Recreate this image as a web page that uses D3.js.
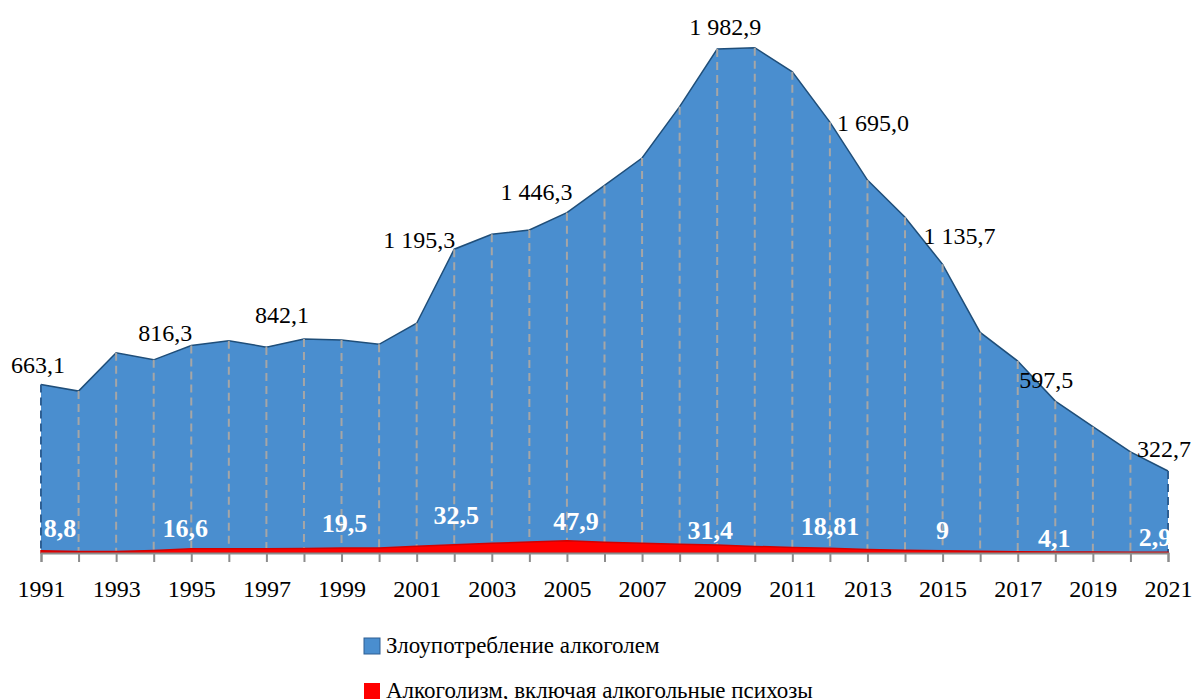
<!DOCTYPE html>
<html>
<head>
<meta charset="utf-8">
<script src="https://d3js.org/d3.v7.min.js"></script>
</head>
<body style="margin:0">
<script>
// years on the x axis
var years = d3.range(1991, 2022);

// blue series: Злоупотребление алкоголем
var abuse = [663.1, 637, 788, 760, 816.3, 835, 810, 842.1, 838, 821,
             904, 1195.3, 1254, 1271, 1339, 1446.3, 1554, 1756, 1982.9, 1988,
             1893, 1695.0, 1467, 1321, 1135.7, 868, 755, 597.5, 497, 398, 322.7];

// red series: Алкоголизм, включая алкогольные психозы
var alcoholism = [8.8, 6, 6, 10, 16.6, 17, 17, 18, 19.5, 20,
                  27, 32.5, 38, 43, 47.9, 42, 38, 34, 31.4, 26,
                  22, 18.81, 14, 11, 9, 7, 5, 4.1, 3.5, 3.2, 2.9];

// which points carry a data label, and the text shown
var abuseLabelYears = [1991, 1995, 1998, 2002, 2006, 2009, 2012, 2015, 2018, 2021];
var abuseLabels = ["663,1", "816,3", "842,1", "1 195,3", "1 446,3", "1 982,9", "1 695,0", "1 135,7", "597,5", "322,7"];
var alcLabelYears = [1991, 1995, 1999, 2002, 2005, 2009, 2012, 2015, 2018, 2021];
var alcLabels = ["8,8", "16,6", "19,5", "32,5", "47,9", "31,4", "18,81", "9", "4,1", "2,9"];

var tickYears = d3.range(1991, 2022, 2);
var seriesNames = ["Злоупотребление алкоголем", "Алкоголизм, включая алкогольные психозы"];

// label nudges (hand placed in the original)
var abuseNudge = [[-3, -19], [-26, -13], [-22, -24], [-35, -9], [-68, 7], [8, -22], [43, 1], [17, -28], [-9, -21], [-4, -22]];
var alcNudge = [[19, -23], [-6, -21], [3, -25], [2, -30], [9, -20], [-7, -15], [0, -22], [0, -21], [-1, -14], [-13, -15]];

var width = 1195, height = 699;
var blue = "#4a8ecf", red = "#ff0000";
var serif = "'Liberation Serif'";

var svg = d3.select("body").append("svg")
    .attr("width", width)
    .attr("height", height)
    .style("display", "block");

var x = d3.scaleLinear().domain([1991, 2021]).range([41, 1168]);
var y = d3.scaleLinear().domain([0, 1982.9]).range([553, 49]);

var blueData = years.map(function(yr, i) { return {year: yr, v: abuse[i]}; });
var redData = years.map(function(yr, i) { return {year: yr, v: alcoholism[i]}; });

var area = d3.area()
    .x(function(d) { return x(d.year); })
    .y0(y(0))
    .y1(function(d) { return y(d.v); });
var line = d3.line()
    .x(function(d) { return x(d.year); })
    .y(function(d) { return y(d.v); });

// blue area
svg.append("path")
    .datum(blueData)
    .attr("d", area)
    .attr("fill", blue);

svg.append("path")
    .datum(blueData)
    .attr("d", line)
    .attr("fill", "none")
    .attr("stroke", "#1f4e79")
    .attr("stroke-width", 1.5);

// drop lines
svg.append("g")
    .selectAll("line")
    .data(blueData)
    .join("line")
    .attr("x1", function(d) { return x(d.year); })
    .attr("x2", function(d) { return x(d.year); })
    .attr("y1", function(d) { return y(d.v); })
    .attr("y2", y(0))
    .attr("stroke", function(d) { return (d.year == 1991 || d.year == 2021) ? "#2e5f93" : "#a6a6a6"; })
    .attr("stroke-width", 2)
    .attr("stroke-dasharray", "8,5");

// red area
svg.append("path")
    .datum(redData)
    .attr("d", area)
    .attr("fill", red)
    .attr("stroke", "#d40000")
    .attr("stroke-width", 1.5);

// x axis
var axis = svg.append("g")
    .attr("transform", "translate(0," + y(0) + ")")
    .call(d3.axisBottom(x)
        .tickValues(years)
        .tickSize(9)
        .tickFormat(function(d) { return tickYears.indexOf(d) >= 0 ? d : ""; }));
axis.attr("font-family", null).attr("font-size", null);
axis.select(".domain").attr("stroke", "#8c8c8c").attr("stroke-width", 2);
axis.selectAll(".tick line").attr("stroke", "#8c8c8c").attr("stroke-width", 2);
axis.selectAll(".tick text")
    .attr("y", 27)
    .attr("fill", "#000")
    .style("font-family", serif)
    .style("font-size", "24px");

// blue data labels
svg.append("g")
    .selectAll("text")
    .data(abuseLabelYears)
    .join("text")
    .attr("x", function(d, i) { return x(d) + abuseNudge[i][0]; })
    .attr("y", function(d, i) { return y(abuse[years.indexOf(d)]) + abuseNudge[i][1] + 8; })
    .attr("text-anchor", "middle")
    .style("font-family", serif)
    .style("font-size", "24px")
    .attr("fill", "#000")
    .text(function(d, i) { return abuseLabels[i]; });

// red data labels
svg.append("g")
    .selectAll("text")
    .data(alcLabelYears)
    .join("text")
    .attr("x", function(d, i) { return x(d) + alcNudge[i][0]; })
    .attr("y", function(d, i) { return y(alcoholism[years.indexOf(d)]) + alcNudge[i][1] + 9; })
    .attr("text-anchor", "middle")
    .style("font-family", serif)
    .style("font-size", "26px")
    .style("font-weight", "bold")
    .attr("fill", "#fff")
    .text(function(d, i) { return alcLabels[i]; });

// legend
var legend = svg.append("g").attr("transform", "translate(364, 638)");
var legendColors = [blue, red];
var item = legend.selectAll("g")
    .data(seriesNames)
    .join("g")
    .attr("transform", function(d, i) { return "translate(0," + (i * 45) + ")"; });
item.append("rect")
    .attr("width", 16)
    .attr("height", 16)
    .attr("fill", function(d, i) { return legendColors[i]; })
    .attr("stroke", function(d, i) { return i == 0 ? "#2e5f93" : "none"; })
    .attr("stroke-width", 1);
item.append("text")
    .attr("x", 22)
    .attr("y", 15)
    .style("font-family", serif)
    .style("font-size", "23px")
    .attr("fill", "#000")
    .text(function(d) { return d; });
</script>
</body>
</html>
